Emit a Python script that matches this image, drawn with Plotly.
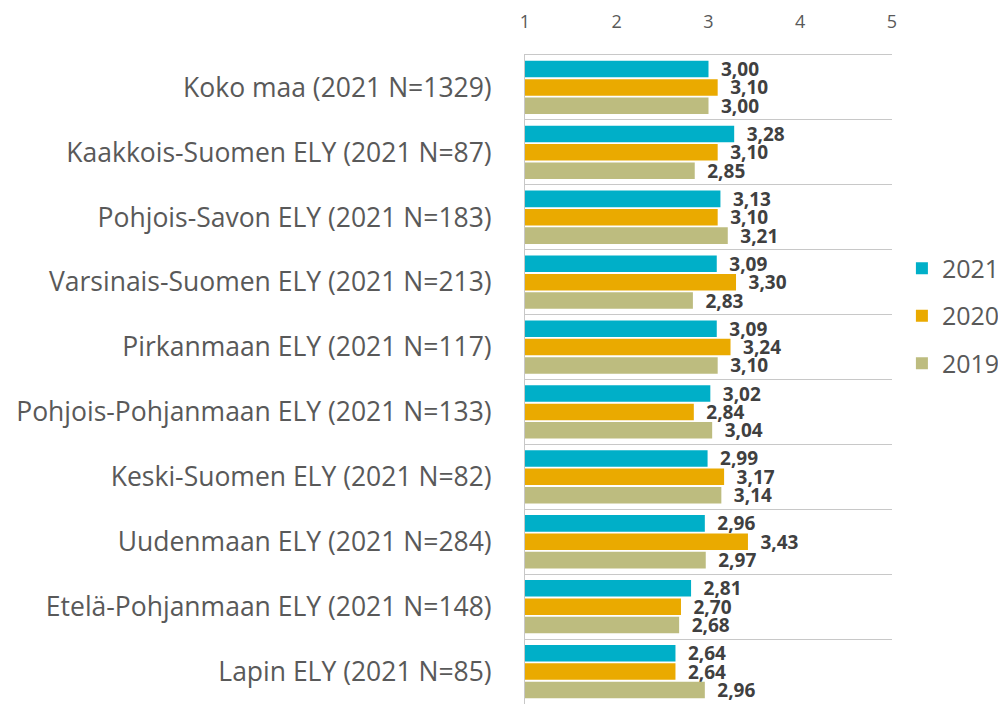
import plotly.graph_objects as go

# regions, top to bottom
regions = [
    "Koko maa (2021 N=1329)",
    "Kaakkois-Suomen ELY (2021 N=87)",
    "Pohjois-Savon ELY (2021 N=183)",
    "Varsinais-Suomen ELY (2021 N=213)",
    "Pirkanmaan ELY (2021 N=117)",
    "Pohjois-Pohjanmaan ELY (2021 N=133)",
    "Keski-Suomen ELY (2021 N=82)",
    "Uudenmaan ELY (2021 N=284)",
    "Etelä-Pohjanmaan ELY (2021 N=148)",
    "Lapin ELY (2021 N=85)",
]

y2021 = [3.00, 3.28, 3.13, 3.09, 3.09, 3.02, 2.99, 2.96, 2.81, 2.64]
y2020 = [3.10, 3.10, 3.10, 3.30, 3.24, 2.84, 3.17, 3.43, 2.70, 2.64]
y2019 = [3.00, 2.85, 3.21, 2.83, 3.10, 3.04, 3.14, 2.97, 2.68, 2.96]

x_ticks = [1, 2, 3, 4, 5]

series = [
    ("2021", y2021, "#00AFC8"),
    ("2020", y2020, "#EAAA00"),
    ("2019", y2019, "#BDBC7F"),
]

FONT = "Open Sans"
GRAY = "#595959"

fig = go.Figure()
for name, vals, color in series:
    fig.add_trace(go.Bar(
        y=regions,
        x=vals,
        name=name,
        orientation="h",
        marker=dict(color=color, line=dict(width=0)),
        # a leading en space pushes the label away from the bar end
        text=["\u2002" + f"{v:.2f}".replace(".", ",") for v in vals],
        textposition="outside",
        constraintext="none",
        textfont=dict(family=FONT, size=19, color="#404040", weight="bold"),
        cliponaxis=False,
        legendgroup=name,
    ))

# page body has an 8px margin, so the figure is drawn 8px in from the window edge
fig.update_layout(
    width=998,
    height=696,
    barmode="group",
    bargap=0.15,
    bargroupgap=0.1,
    plot_bgcolor="white",
    paper_bgcolor="white",
    margin=dict(l=517, r=114, t=47, b=0),
    font=dict(family=FONT, color=GRAY),
    legend=dict(
        x=1.027, y=0.598, xanchor="left", yanchor="middle",
        traceorder="grouped", tracegroupgap=12,
        font=dict(size=25, color=GRAY),
    ),
)

fig.update_xaxes(
    side="top",
    range=[1, 5],
    tickvals=x_ticks,
    showgrid=False,
    zeroline=False,
    showline=True,
    linecolor="#C8C8C8",
    ticks="",
    ticklabelstandoff=19,
    tickfont=dict(size=18, color=GRAY),
)

fig.update_yaxes(
    autorange="reversed",
    tickson="boundaries",
    showgrid=True,
    gridcolor="#C8C8C8",
    showline=True,
    linecolor="#C8C8C8",
    ticks="",
    ticklabelstandoff=27,
    tickfont=dict(size=26.5, color=GRAY),
)

fig.write_html("out.html")
